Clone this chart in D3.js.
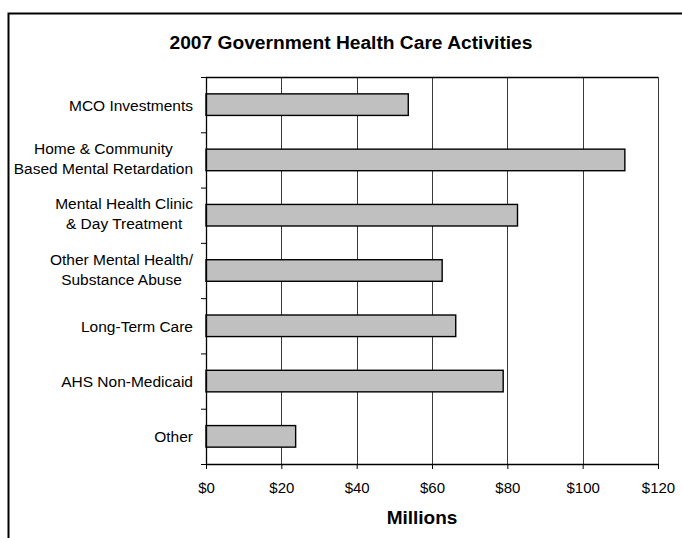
<!DOCTYPE html>
<html>
<head>
<meta charset="utf-8">
<script src="https://cdn.jsdelivr.net/npm/d3@7"></script>
<style>
  html, body { margin: 0; padding: 0; background: #fff; }
  svg { display: block; font-family: "Liberation Sans", Arial, sans-serif; }
</style>
</head>
<body>
<svg id="chart" width="682" height="538"></svg>
<script>
// Spending by activity, in millions of dollars
const categories = [
  "MCO Investments",
  "Home & Community\nBased Mental Retardation",
  "Mental Health Clinic\n& Day Treatment",
  "Other Mental Health/\nSubstance Abuse",
  "Long-Term Care",
  "AHS Non-Medicaid",
  "Other"
];
const values = [53.7, 111.2, 82.7, 62.7, 66.3, 78.9, 23.8];
const xTicks = [0, 20, 40, 60, 80, 100, 120];
const chartTitle = "2007 Government Health Care Activities";
const xAxisTitle = "Millions";

const svg = d3.select("#chart");
const plot = { left: 206, right: 658, top: 77, bottom: 464 };

// outer frame (left and top edges visible)
svg.append("rect")
  .attr("x", 8.5).attr("y", 13.5)
  .attr("width", 720).attr("height", 600)
  .attr("fill", "none").attr("stroke", "#000").attr("stroke-width", 2);

svg.append("text")
  .attr("x", 351).attr("y", 49)
  .attr("text-anchor", "middle")
  .attr("font-size", 19.2).attr("font-weight", "bold")
  .text(chartTitle);

const x = d3.scaleLinear().domain([0, 120]).range([plot.left, plot.right]);
const y = d3.scaleBand().domain(d3.range(categories.length))
  .range([plot.top, plot.bottom]).paddingInner(0.61).paddingOuter(0.305);
const bandStep = y.step();

// vertical gridlines
svg.append("g").selectAll("line")
  .data(xTicks.slice(1))
  .join("line")
  .attr("x1", d => Math.round(x(d)) + 0.5).attr("x2", d => Math.round(x(d)) + 0.5)
  .attr("y1", plot.top).attr("y2", plot.bottom)
  .attr("stroke", "#3a3a3a").attr("stroke-width", 1);

// plot border top
svg.append("line")
  .attr("x1", plot.left).attr("x2", plot.right)
  .attr("y1", plot.top + 0.5).attr("y2", plot.top + 0.5)
  .attr("stroke", "#000").attr("stroke-width", 1.3);

// bars
svg.append("g").selectAll("rect")
  .data(values)
  .join("rect")
  .attr("x", plot.left)
  .attr("y", (d, i) => y(i))
  .attr("width", d => x(d) - x(0))
  .attr("height", y.bandwidth())
  .attr("fill", "#c0c0c0")
  .attr("stroke", "#000").attr("stroke-width", 1.4);

// x axis
const xAxis = d3.axisBottom(x).tickValues(xTicks)
  .tickFormat(d => "$" + d).tickSize(5).tickSizeOuter(0);
const gx = svg.append("g").attr("transform", `translate(0,${plot.bottom})`).call(xAxis);
gx.select(".domain").attr("stroke", "#000").attr("stroke-width", 1.3);
gx.selectAll(".tick line").attr("stroke", "#000");
gx.selectAll(".tick text")
  .attr("font-family", "Liberation Sans, Arial, sans-serif")
  .attr("font-size", 15).attr("fill", "#000")
  .attr("y", 0).attr("dy", null)
  .attr("transform", "translate(0,28.5)");

// y axis: ticks at category boundaries
const yBoundaries = d3.range(categories.length + 1).map(i => plot.top + i * bandStep);
const yLin = d3.scaleLinear().domain([plot.top, plot.bottom]).range([plot.top, plot.bottom]);
const gy = svg.append("g").attr("transform", `translate(${plot.left},0)`)
  .call(d3.axisLeft(yLin).tickValues(yBoundaries).tickSize(5).tickSizeOuter(0).tickFormat(""));
gy.select(".domain").attr("stroke", "#000").attr("stroke-width", 1.3);
gy.selectAll(".tick line").attr("stroke", "#000");

// category labels
const labels = svg.append("g").attr("font-size", 15.5).attr("text-anchor", "middle");
categories.forEach((c, i) => {
  const lines = c.split("\n");
  const cy = plot.top + (i + 0.5) * bandStep;
  const t = labels.append("text");
  // right edge aligned; multi-line blocks centered on each other
  const anchorX = 193;
  t.attr("text-anchor", lines.length > 1 ? "middle" : "end");
  lines.forEach((ln, j) => {
    const base = lines.length > 1 ? cy + 4 + (j - (lines.length - 1) / 2) * 20 : cy + 6;
    t.append("tspan").attr("y", base).text(ln);
  });
  if (lines.length > 1) {
    // center lines on the widest line, whose right edge sits at anchorX
    const widths = [];
    t.selectAll("tspan").each(function() { widths.push(this.getComputedTextLength()); });
    const maxW = d3.max(widths);
    t.selectAll("tspan").attr("x", anchorX - maxW / 2);
  } else {
    t.attr("x", anchorX);
  }
});

svg.append("text")
  .attr("x", 422).attr("y", 524)
  .attr("text-anchor", "middle")
  .attr("font-size", 19).attr("font-weight", "bold")
  .text(xAxisTitle);
</script>
</body>
</html>
